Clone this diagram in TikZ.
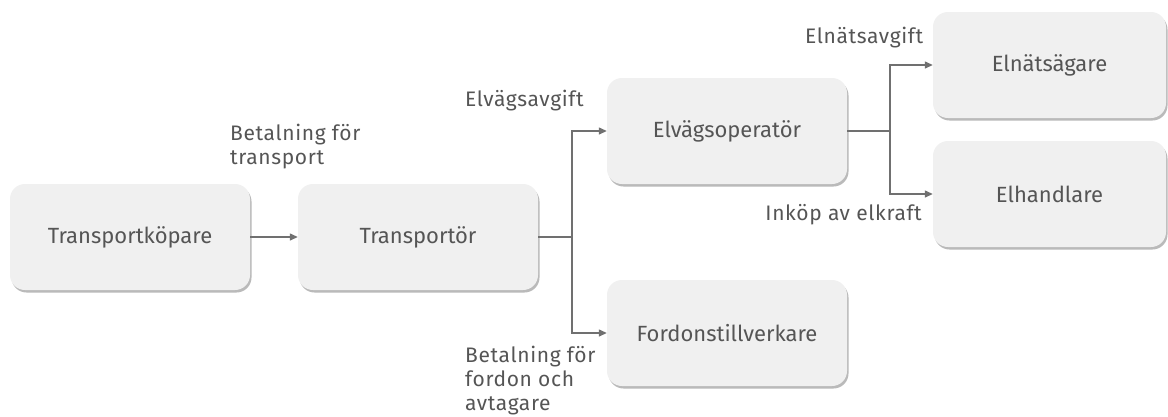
\documentclass[tikz,border=0pt]{standalone}
\usepackage{fontspec}
\setmainfont{Fira Sans}
\usetikzlibrary{arrows.meta,shadows}
\definecolor{boxfill}{HTML}{F0F0F0}
\definecolor{txt}{HTML}{555555}
\definecolor{wire}{HTML}{707070}
\begin{document}
\begin{tikzpicture}[x=1pt,y=-1pt,
  actor/.style={draw=none,fill=boxfill,rounded corners=15pt,minimum width=240pt,minimum height=106pt,
    text=txt,font=\fontsize{22}{26}\selectfont,
    drop shadow={shadow xshift=1.5pt,shadow yshift=-2.5pt,fill=black!45,opacity=0.6}},
  flow/.style={draw=wire,line width=1.3pt,-{Triangle[length=8pt,width=7pt]}},
  link/.style={draw=wire,line width=1.3pt},
  lbl/.style={text=txt,font=\fontsize{21}{24}\selectfont\addfontfeature{LetterSpace=3},align=left,inner sep=0pt}]
\useasboundingbox (0,0) rectangle (1168,416);
\fill[white] (0,0) rectangle (1168,416);

% actors
\node[actor] (kop) at (130,237) {Transportköpare};
\node[actor] (tra) at (418,237) {Transportör};
\node[actor] (evo) at (727,131) {Elvägsoperatör};
\node[actor] (for) at (727,333) {Fordonstillverkare};
\node[actor,minimum width=233pt] (ena) at (1049.5,65) {Elnätsägare};
\node[actor,minimum width=233pt] (elh) at (1049.5,194) {Elhandlare};

% branch points
\coordinate (b1) at (572,237);
\coordinate (b2) at (890,131);

% connectors
\draw[flow] (kop.east) -- (tra.west);
\draw[link] (tra.east) -- (b1);
\draw[flow] (b1) |- (evo.west);
\draw[flow] (b1) |- (for.west);
\draw[link] (evo.east) -- (b2);
\draw[flow] (b2) |- (ena.west);
\draw[flow] (b2) |- (elh.west);

% payment labels
\node[lbl,anchor=north west] (l1) at (230,124) {Betalning för\\transport};
\node[lbl,anchor=west] (l2) at (465,101) {Elvägsavgift};
\node[lbl,anchor=west] (l3) at (805,38) {Elnätsavgift};
\node[lbl,anchor=east] (l4) at (922,215) {Inköp av elkraft};
\node[lbl,anchor=north west] (l5) at (465,346) {Betalning för\\fordon och\\avtagare};
\end{tikzpicture}
\end{document}
